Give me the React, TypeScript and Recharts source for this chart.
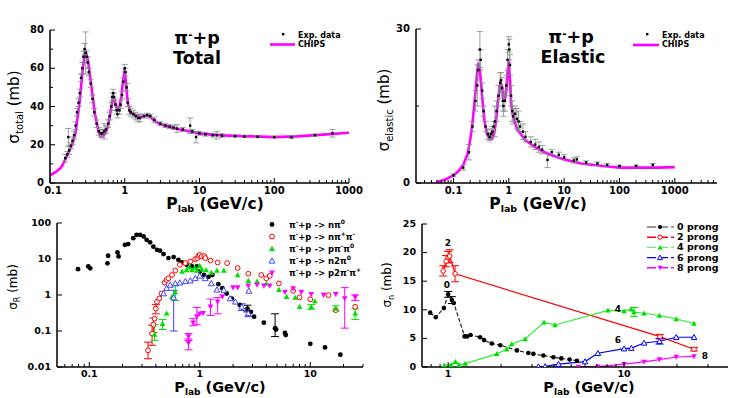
import React from 'react';
import { ComposedChart, Line, Scatter, XAxis, YAxis, ErrorBar } from 'recharts';

const FONT = '"DejaVu Sans", Arial, sans-serif';
const MAGENTA = '#ff00ff';
const GREEN = '#00e000';
const BLUE = '#0000ff';
const RED = '#ff0000';

// ---- top left: pi- p total
const totalChips = [
  { p: 0.1, s: 4 }, { p: 0.12, s: 5.8 }, { p: 0.14, s: 8 }, { p: 0.15, s: 10 }, { p: 0.17, s: 14.5 },
  { p: 0.2, s: 20.5 }, { p: 0.22, s: 26.5 }, { p: 0.25, s: 43 }, { p: 0.27, s: 57 }, { p: 0.29, s: 67.5 },
  { p: 0.3, s: 68.5 }, { p: 0.32, s: 65 }, { p: 0.35, s: 53.5 }, { p: 0.4, s: 36 }, { p: 0.45, s: 26.5 },
  { p: 0.48, s: 24.2 }, { p: 0.52, s: 25 }, { p: 0.55, s: 25.8 }, { p: 0.6, s: 30 }, { p: 0.65, s: 38 },
  { p: 0.7, s: 45 }, { p: 0.75, s: 42 }, { p: 0.8, s: 38 }, { p: 0.85, s: 40 }, { p: 0.9, s: 45 },
  { p: 0.95, s: 53.5 }, { p: 1.0, s: 59.5 }, { p: 1.05, s: 50 }, { p: 1.1, s: 41.5 }, { p: 1.2, s: 37 },
  { p: 1.4, s: 35.4 }, { p: 1.6, s: 34.5 }, { p: 1.8, s: 34.8 }, { p: 2.0, s: 35.4 }, { p: 2.2, s: 34.5 },
  { p: 2.5, s: 32.4 }, { p: 3, s: 30.7 }, { p: 4, s: 29.3 }, { p: 5, s: 28.2 }, { p: 7, s: 27.2 },
  { p: 10, s: 25.8 }, { p: 20, s: 24.9 }, { p: 50, s: 24.4 }, { p: 100, s: 24 }, { p: 200, s: 24.4 },
  { p: 500, s: 25.4 }, { p: 1000, s: 26.3 },
];
const totalExp = [
  { p: 0.16, s: 13, e: 2 }, { p: 0.17, s: 15, e: 1.5 }, { p: 0.176, s: 24, e: 4.5 }, { p: 0.18, s: 17, e: 2 },
  { p: 0.19, s: 19.5, e: 1.5 }, { p: 0.2, s: 22, e: 2 }, { p: 0.21, s: 25, e: 2 }, { p: 0.22, s: 30, e: 2 },
  { p: 0.23, s: 37, e: 2 }, { p: 0.24, s: 42, e: 2 }, { p: 0.25, s: 47, e: 2 }, { p: 0.26, s: 55, e: 2 },
  { p: 0.27, s: 60, e: 3 }, { p: 0.28, s: 66, e: 3 }, { p: 0.29, s: 70, e: 3 }, { p: 0.3, s: 68, e: 11 },
  { p: 0.31, s: 66, e: 3 }, { p: 0.32, s: 63, e: 3 }, { p: 0.33, s: 58, e: 2 }, { p: 0.35, s: 52, e: 2 },
  { p: 0.37, s: 44, e: 2 }, { p: 0.39, s: 37, e: 2 }, { p: 0.42, s: 31, e: 2 }, { p: 0.45, s: 27, e: 2 },
  { p: 0.48, s: 26, e: 2 }, { p: 0.5, s: 26, e: 2 }, { p: 0.53, s: 27, e: 4 }, { p: 0.56, s: 28, e: 2 },
  { p: 0.6, s: 31, e: 2 }, { p: 0.63, s: 35, e: 2 }, { p: 0.66, s: 40, e: 2 }, { p: 0.68, s: 45, e: 2 },
  { p: 0.7, s: 47, e: 2 }, { p: 0.72, s: 45, e: 2 }, { p: 0.75, s: 41, e: 3 }, { p: 0.78, s: 38, e: 2 },
  { p: 0.8, s: 36, e: 2 }, { p: 0.85, s: 38, e: 2 }, { p: 0.88, s: 41, e: 2 }, { p: 0.92, s: 46, e: 2 },
  { p: 0.96, s: 53, e: 2 }, { p: 1.0, s: 60, e: 2 }, { p: 1.02, s: 58, e: 2 }, { p: 1.06, s: 50, e: 2 },
  { p: 1.1, s: 42, e: 2 }, { p: 1.15, s: 38, e: 2 }, { p: 1.2, s: 37, e: 2 }, { p: 1.3, s: 36, e: 2 },
  { p: 1.4, s: 35, e: 2 }, { p: 1.5, s: 34, e: 2 }, { p: 1.6, s: 34, e: 2 }, { p: 1.8, s: 35, e: 1 },
  { p: 2.0, s: 35.5, e: 1 }, { p: 2.2, s: 35, e: 1 }, { p: 2.5, s: 33, e: 1.5 }, { p: 3, s: 31, e: 1 },
  { p: 3.5, s: 30, e: 1 }, { p: 4, s: 29.5, e: 1 }, { p: 4.5, s: 29, e: 1 }, { p: 5, s: 28.5, e: 2 },
  { p: 6, s: 28, e: 1 }, { p: 7.5, s: 30, e: 4 }, { p: 8, s: 27, e: 1 }, { p: 9, s: 24, e: 3 },
  { p: 10, s: 26, e: 1 }, { p: 12, s: 25.5, e: 1 }, { p: 15, s: 25, e: 1 }, { p: 17, s: 25, e: 2 },
  { p: 20, s: 24.8, e: 1 }, { p: 30, s: 24.5, e: 0.5 }, { p: 40, s: 24.3, e: 0.5 }, { p: 60, s: 24.2, e: 0.5 },
  { p: 100, s: 24, e: 0.5 }, { p: 170, s: 24, e: 0.8 }, { p: 350, s: 25, e: 0.5 }, { p: 600, s: 26, e: 2 },
];

// ---- top right: pi- p elastic
const elasticChips = [
  { p: 0.05, s: 0.2 }, { p: 0.07, s: 0.65 }, { p: 0.1, s: 1.5 }, { p: 0.12, s: 2.2 }, { p: 0.15, s: 3.5 },
  { p: 0.18, s: 5.7 }, { p: 0.2, s: 8.3 }, { p: 0.22, s: 11.5 }, { p: 0.25, s: 17.8 }, { p: 0.27, s: 22 },
  { p: 0.28, s: 23.4 }, { p: 0.3, s: 22 }, { p: 0.33, s: 16.8 }, { p: 0.36, s: 12.3 }, { p: 0.4, s: 9.7 },
  { p: 0.45, s: 8.5 }, { p: 0.5, s: 8.7 }, { p: 0.55, s: 10 }, { p: 0.6, s: 12.9 }, { p: 0.65, s: 16.8 },
  { p: 0.7, s: 19.4 }, { p: 0.75, s: 19 }, { p: 0.8, s: 16.5 }, { p: 0.85, s: 16.2 }, { p: 0.9, s: 18 },
  { p: 0.95, s: 21.7 }, { p: 1.0, s: 23.7 }, { p: 1.05, s: 20 }, { p: 1.1, s: 15.5 }, { p: 1.2, s: 12.9 },
  { p: 1.4, s: 10.6 }, { p: 1.6, s: 9.7 }, { p: 2, s: 8.3 }, { p: 3, s: 7 }, { p: 5, s: 5.7 },
  { p: 10, s: 4.6 }, { p: 20, s: 3.8 }, { p: 50, s: 3.3 }, { p: 100, s: 3.0 }, { p: 200, s: 3.0 },
  { p: 500, s: 3.0 }, { p: 1000, s: 3.1 },
];
const elasticExp = [
  { p: 0.1, s: 1.5, e: 0.3 }, { p: 0.15, s: 3, e: 0.5 }, { p: 0.19, s: 6, e: 1.5 }, { p: 0.22, s: 11, e: 1 },
  { p: 0.25, s: 16, e: 2 }, { p: 0.27, s: 19, e: 4 }, { p: 0.28, s: 22, e: 2 }, { p: 0.3, s: 26, e: 3.5 },
  { p: 0.31, s: 24, e: 2 }, { p: 0.33, s: 18, e: 1.5 }, { p: 0.35, s: 14, e: 1 }, { p: 0.38, s: 11, e: 1 },
  { p: 0.42, s: 9.5, e: 1 }, { p: 0.45, s: 9, e: 0.8 }, { p: 0.48, s: 9.5, e: 1 }, { p: 0.5, s: 10, e: 1 },
  { p: 0.53, s: 11, e: 1 }, { p: 0.56, s: 12, e: 3 }, { p: 0.6, s: 14, e: 2 }, { p: 0.65, s: 17, e: 2 },
  { p: 0.7, s: 19.5, e: 2 }, { p: 0.72, s: 20, e: 1.5 }, { p: 0.75, s: 18.5, e: 2 }, { p: 0.78, s: 16, e: 2 },
  { p: 0.8, s: 15, e: 2 }, { p: 0.85, s: 16, e: 2 }, { p: 0.9, s: 19, e: 2 }, { p: 0.95, s: 24, e: 2 },
  { p: 1.0, s: 27, e: 1.5 }, { p: 1.02, s: 26, e: 2 }, { p: 1.05, s: 23, e: 2 }, { p: 1.1, s: 17, e: 2 },
  { p: 1.15, s: 14, e: 2 }, { p: 1.2, s: 13, e: 1.5 }, { p: 1.3, s: 13.5, e: 1.5 }, { p: 1.4, s: 12.5, e: 2 },
  { p: 1.5, s: 12, e: 2 }, { p: 1.6, s: 11, e: 1 }, { p: 1.8, s: 10, e: 1.5 }, { p: 2, s: 9, e: 1 },
  { p: 2.5, s: 8, e: 1 }, { p: 3, s: 7.5, e: 1 }, { p: 3.5, s: 7, e: 1 }, { p: 4, s: 6.5, e: 0.8 },
  { p: 5, s: 4.5, e: 1.5 }, { p: 6, s: 6, e: 0.5 }, { p: 8, s: 5.5, e: 0.5 }, { p: 10, s: 5, e: 0.5 },
  { p: 15, s: 4.4, e: 0.5 }, { p: 17, s: 4.6, e: 0.5 }, { p: 25, s: 4, e: 0.3 }, { p: 40, s: 3.8, e: 0.3 },
  { p: 60, s: 3.5, e: 0.3 }, { p: 100, s: 3.3, e: 0.2 }, { p: 200, s: 3.3, e: 0.2 }, { p: 400, s: 3.5, e: 0.3 },
];

// ---- bottom left: reaction cross sections
const nPi0 = [
  { p: 0.079, s: 5.2 }, { p: 0.098, s: 6.2 }, { p: 0.102, s: 5.5 }, { p: 0.146, s: 7.6 }, { p: 0.148, s: 12.3 },
  { p: 0.18, s: 15.2 }, { p: 0.184, s: 11.8 }, { p: 0.21, s: 24.8 }, { p: 0.225, s: 25.9 }, { p: 0.25, s: 38 },
  { p: 0.268, s: 47 }, { p: 0.288, s: 47 }, { p: 0.31, s: 42.5 }, { p: 0.33, s: 34 }, { p: 0.355, s: 29 },
  { p: 0.38, s: 22 }, { p: 0.41, s: 18 }, { p: 0.437, s: 17 }, { p: 0.47, s: 13.7 }, { p: 0.52, s: 10.6 },
  { p: 0.58, s: 11.3 }, { p: 0.64, s: 9.5 }, { p: 0.69, s: 8 }, { p: 0.76, s: 6.9 }, { p: 0.85, s: 6.2 },
  { p: 0.94, s: 6.2 }, { p: 1.0, s: 4.5 }, { p: 1.09, s: 3.6 }, { p: 1.2, s: 3.2 }, { p: 1.3, s: 3.6 },
  { p: 1.47, s: 2.0 }, { p: 1.6, s: 1.54 }, { p: 1.75, s: 1.1 }, { p: 1.95, s: 0.79 }, { p: 2.3, s: 0.53 },
  { p: 2.7, s: 0.42, e: [0.08, 0.1] }, { p: 2.9, s: 0.34 }, { p: 3.1, s: 0.25 }, { p: 3.8, s: 0.17 },
  { p: 4.8, s: 0.12, e: [0.05, 0.18] }, { p: 4.9, s: 0.11 }, { p: 5.9, s: 0.088 }, { p: 6.0, s: 0.077 },
  { p: 10, s: 0.044 }, { p: 13.6, s: 0.035 }, { p: 18.7, s: 0.022 },
];
const nPipPim = [
  { p: 0.34, s: 0.029, e: [0.012, 0.02] }, { p: 0.37, s: 0.085, e: [0.045, 0.06] }, { p: 0.38, s: 0.15, e: [0.06, 0.08] },
  { p: 0.39, s: 0.22 }, { p: 0.4, s: 0.42, e: [0.12, 0.12] }, { p: 0.41, s: 0.65 }, { p: 0.43, s: 0.8 },
  { p: 0.45, s: 1.1 }, { p: 0.48, s: 2.2 }, { p: 0.5, s: 2.6 }, { p: 0.52, s: 2.9 }, { p: 0.56, s: 3.6 },
  { p: 0.6, s: 4.8 }, { p: 0.66, s: 6.9 }, { p: 0.74, s: 7.7 }, { p: 0.82, s: 8.5 }, { p: 0.91, s: 9.9 },
  { p: 0.95, s: 10.5 }, { p: 0.97, s: 12.3 }, { p: 1.0, s: 13 }, { p: 1.04, s: 11.8 }, { p: 1.1, s: 12 },
  { p: 1.12, s: 10.6 }, { p: 1.25, s: 9.1 }, { p: 1.45, s: 8 }, { p: 1.77, s: 7.7 }, { p: 2.2, s: 5.6 },
  { p: 2.75, s: 3.9 }, { p: 3.6, s: 3.6 }, { p: 4.0, s: 2.9 }, { p: 4.3, s: 3.4 }, { p: 5.2, s: 2.1 },
  { p: 7.0, s: 1.3 }, { p: 8.0, s: 0.86 }, { p: 10, s: 0.76 }, { p: 14.6, s: 0.99 }, { p: 17, s: 0.38 },
  { p: 25.5, s: 0.47 },
];
const pPimPi0 = [
  { p: 0.39, s: 0.08, e: [0.025, 0.07] }, { p: 0.46, s: 0.16, e: [0.05, 0.05] }, { p: 0.5, s: 0.31 },
  { p: 0.56, s: 0.9 }, { p: 0.6, s: 1.2, e: [0.5, 0.6] }, { p: 0.69, s: 4.5 }, { p: 0.76, s: 5 },
  { p: 0.8, s: 6 }, { p: 0.85, s: 5 }, { p: 0.9, s: 5.8 }, { p: 0.94, s: 4.8 }, { p: 1.0, s: 6.5 },
  { p: 1.04, s: 5.2 }, { p: 1.14, s: 5 }, { p: 1.27, s: 4.2 }, { p: 1.43, s: 4.8 }, { p: 1.65, s: 4.8 },
  { p: 2.2, s: 3.6 }, { p: 2.75, s: 2.5 }, { p: 3.3, s: 2.4 }, { p: 4.0, s: 2.1 }, { p: 5.2, s: 1.4 },
  { p: 6.1, s: 0.9 }, { p: 7.3, s: 0.85 }, { p: 8, s: 0.47 }, { p: 10.2, s: 0.47, e: [0.07, 0.07] },
  { p: 11, s: 0.68 }, { p: 17, s: 0.42, e: [0.06, 0.08] }, { p: 25.5, s: 0.31, e: [0.1, 0.1] },
];
const n2Pi0 = [
  { p: 0.47, s: 1.1 }, { p: 0.5, s: 1.55 }, { p: 0.54, s: 1.9 }, { p: 0.58, s: 0.85, e: [0.75, 0.5] },
  { p: 0.6, s: 2.1 }, { p: 0.66, s: 2.2 }, { p: 0.74, s: 2.4 }, { p: 0.82, s: 2.5 }, { p: 0.91, s: 2.9 },
  { p: 1.0, s: 3.4 }, { p: 1.12, s: 2.9 }, { p: 1.27, s: 2.1 }, { p: 1.43, s: 1.4 }, { p: 1.65, s: 1.37 },
  { p: 1.88, s: 0.8 }, { p: 2.1, s: 0.65 }, { p: 2.4, s: 0.47, e: [0.1, 0.1] }, { p: 2.75, s: 0.31, e: [0.06, 0.06] },
  { p: 2.78, s: 1.3 },
];
const p2PimPip = [
  { p: 0.79, s: 0.07, e: [0.015, 0.015] }, { p: 0.79, s: 0.046, e: [0.016, 0.014] }, { p: 0.87, s: 0.17, e: [0.03, 0.05] },
  { p: 0.94, s: 0.25, e: [0.1, 0.2] }, { p: 1.0, s: 0.3 }, { p: 1.07, s: 0.31 }, { p: 1.25, s: 0.47, e: [0.2, 0.3] },
  { p: 1.45, s: 0.65, e: [0.35, 0.2] }, { p: 1.6, s: 0.9 }, { p: 2.0, s: 1.6 }, { p: 2.2, s: 1.6 },
  { p: 2.75, s: 1.8 }, { p: 3.3, s: 1.9 }, { p: 3.8, s: 1.8 }, { p: 4.3, s: 1.8 }, { p: 5.9, s: 1.2 },
  { p: 7, s: 1.5 }, { p: 8.3, s: 1.2 }, { p: 10.2, s: 1.05 }, { p: 13.2, s: 0.99 }, { p: 17, s: 1.05 },
  { p: 20.5, s: 0.8, e: [0.68, 0.8] }, { p: 25.5, s: 0.86, e: [0.15, 0.15] },
];

// ---- bottom right: prong cross sections
const prong0 = [
  { p: 0.79, s: 9.5 }, { p: 0.85, s: 8.7 }, { p: 0.945, s: 10.3 }, { p: 1.0, s: 12.7, e: 0.5 }, { p: 1.05, s: 11.7, e: 0.6 },
  { p: 1.076, s: 11.2 }, { p: 1.24, s: 5.35 }, { p: 1.28, s: 5.35 }, { p: 1.34, s: 5.6 }, { p: 1.52, s: 5.2 },
  { p: 1.6, s: 4.7 }, { p: 1.77, s: 4.1 }, { p: 1.98, s: 3.8 }, { p: 2.46, s: 2.9 }, { p: 2.86, s: 2.45 },
  { p: 3.05, s: 2.3 }, { p: 3.48, s: 2.0 }, { p: 3.97, s: 1.7 }, { p: 4.4, s: 1.5 }, { p: 4.9, s: 1.3 },
  { p: 5.4, s: 1.1 },
];
const prong2 = [
  { p: 0.937, s: 16.8, e: 0.9 }, { p: 0.974, s: 18.5, e: 1.0 }, { p: 1.0, s: 19.2, e: 1.0 }, { p: 1.02, s: 19.4, e: 1.1 },
  { p: 1.095, s: 16.3, e: 1.4 }, { p: 16, s: 5.3, e: 0.4 }, { p: 25, s: 3.1, e: 0.3 },
];
const prong4 = [
  { p: 0.95, s: 0.3 }, { p: 1.04, s: 0.4 }, { p: 1.1, s: 0.9 }, { p: 1.15, s: 0.4 }, { p: 1.25, s: 0.6 },
  { p: 1.89, s: 2.3 }, { p: 2.15, s: 3.1 }, { p: 2.3, s: 4.0 }, { p: 2.74, s: 4.9 }, { p: 3.51, s: 7.8 },
  { p: 4.05, s: 7.35 }, { p: 8.1, s: 9.9 }, { p: 10, s: 9.8 }, { p: 11, s: 10.1 }, { p: 11.4, s: 9.6, e: 0.8 },
  { p: 13, s: 9.4 }, { p: 15.9, s: 9.0 }, { p: 19.8, s: 8.4 }, { p: 25, s: 7.6 },
];
const prong6 = [
  { p: 3.26, s: 0.05 }, { p: 3.56, s: 0.1 }, { p: 4.24, s: 0.5 }, { p: 6.0, s: 0.95 }, { p: 7.1, s: 2.4 },
  { p: 10, s: 3.2 }, { p: 11, s: 3.3 }, { p: 13, s: 4.2 }, { p: 15.9, s: 4.5, e: 0.5 }, { p: 19.8, s: 5.2 },
  { p: 25, s: 5.2 },
];
const prong8 = [
  { p: 5.5, s: 0 }, { p: 7.1, s: 0.05 }, { p: 10, s: 0.5 }, { p: 13, s: 0.9 }, { p: 15.9, s: 1.3 },
  { p: 19.8, s: 1.75 }, { p: 25, s: 1.85 },
];

// ---- ticks
const topTicksA = [0.1, 0.2, 0.3, 0.4, 0.5, 0.6, 0.7, 0.8, 0.9, 1, 2, 3, 4, 5, 6, 7, 8, 9, 10, 20, 30, 40, 50, 60, 70, 80, 90, 100, 200, 300, 400, 500, 600, 700, 800, 900, 1000];
const topTicksB = [0.03, 0.04, 0.05, 0.06, 0.07, 0.08, 0.09, ...topTicksA, 2000, 3000, 4000, 5000];
const topLabels = [0.1, 1, 10, 100, 1000];
const totalYTicks = [0, 10, 20, 30, 40, 50, 60, 70, 80];
const totalYLabels = [0, 20, 40, 60, 80];
const elasticYTicks = [0, 15, 30];
const elasticYLabels = [0, 30];
const reactXTicks = [0.06, 0.07, 0.08, 0.09, 0.1, 0.2, 0.3, 0.4, 0.5, 0.6, 0.7, 0.8, 0.9, 1, 2, 3, 4, 5, 6, 7, 8, 9, 10, 20, 30];
const reactXLabels = [0.1, 1, 10];
const reactYTicks = [0.01, 0.1, 1, 10, 100];
const prongXTicks = [0.8, 0.9, 1, 2, 3, 4, 5, 6, 7, 8, 9, 10, 20, 30];
const prongXLabels = [1, 10];
const prongYTicks = [0, 5, 10, 15, 20, 25];

// tick mark drawn inside the plot, label only on the major values
const xTick = (labels: number[], size: number, off: number, firstShift = 0) => (props: any) => {
  const { x, y, payload } = props;
  const major = labels.includes(payload.value);
  const dx = payload.value === labels[0] ? firstShift : 0;
  return (
    <g>
      <line x1={x} x2={x} y1={y} y2={y - (major ? 5 : 3)} stroke="#000" strokeWidth={1} />
      {major && (
        <text x={x + dx} y={y + off} textAnchor="middle" fontFamily={FONT} fontWeight="bold" fontSize={size} fill="#000">
          {payload.value}
        </text>
      )}
    </g>
  );
};

const yTick = (labels: number[], size: number) => (props: any) => {
  const { x, y, payload } = props;
  const major = labels.includes(payload.value);
  return (
    <g>
      <line x1={x} x2={x + (major ? 5 : 3)} y1={y} y2={y} stroke="#000" strokeWidth={1} />
      {major && (
        <text x={x - 6} y={y + size * 0.3} textAnchor="end" fontFamily={FONT} fontWeight="bold" fontSize={size} fill="#000">
          {payload.value}
        </text>
      )}
    </g>
  );
};

type Kind = 'dot' | 'circle' | 'tri' | 'triOpen' | 'triDown';

function Marker({ kind, cx, cy, color, r = 2.6 }: { kind: Kind; cx: number; cy: number; color: string; r?: number }) {
  if (cx == null || cy == null) return null;
  if (kind === 'dot') return <circle cx={cx} cy={cy} r={r} fill={color} />;
  if (kind === 'circle') return <circle cx={cx} cy={cy} r={r} fill="#fff" stroke={color} strokeWidth={1} />;
  const h = r * 1.2;
  if (kind === 'triDown')
    return <path d={`M${cx - h},${cy - h * 0.8}L${cx + h},${cy - h * 0.8}L${cx},${cy + h}Z`} fill={color} />;
  const d = `M${cx - h},${cy + h * 0.8}L${cx + h},${cy + h * 0.8}L${cx},${cy - h}Z`;
  return kind === 'tri' ? <path d={d} fill={color} /> : <path d={d} fill="#fff" stroke={color} strokeWidth={1} />;
}

const expDot = (props: any) => <rect x={props.cx - 1.2} y={props.cy - 1.2} width={2.4} height={2.4} fill="#000" />;

const axisLine = { stroke: '#000', strokeWidth: 1.5 };

function Txt({ x, y, size, bold = true, anchor = 'center', rotate = false, children }: any) {
  const tr = anchor === 'center' ? 'translate(-50%,-50%)' : 'translate(0,-50%)';
  return (
    <div
      style={{
        position: 'absolute', left: x, top: y, transform: tr + (rotate ? ' rotate(-90deg)' : ''),
        fontSize: size, fontWeight: bold ? 'bold' : 'normal', whiteSpace: 'nowrap', lineHeight: 1, color: '#000',
      }}
    >
      {children}
    </div>
  );
}

const sub = (t: string, size: number) => <span style={{ fontSize: size, position: 'relative', top: size * 0.35 }}>{t}</span>;
const sup = (t: string, size: number) => <span style={{ fontSize: size, position: 'relative', top: -size * 0.6 }}>{t}</span>;

function TopChart({ chips, exp, xTicks, domain, yTicks, yLabels, yMax, margin, firstShift }: any) {
  return (
    <ComposedChart width={margin.w} height={200} margin={{ top: margin.top, right: margin.right, bottom: 0, left: margin.left }}>
      <XAxis dataKey="p" type="number" scale="log" domain={domain} allowDataOverflow ticks={xTicks} interval={0}
        tickSize={0} tickMargin={0} tickLine={false} tick={xTick(topLabels, 10, 11, firstShift)} height={17} axisLine={axisLine} />
      <YAxis type="number" domain={[0, yMax]} allowDataOverflow ticks={yTicks} interval={0} width={margin.yw}
        tickSize={0} tickMargin={0} tickLine={false} tick={yTick(yLabels, 10)} axisLine={axisLine} />
      <Line data={chips} dataKey="s" stroke={MAGENTA} strokeWidth={2.6} dot={false} isAnimationActive={false} />
      <Scatter data={exp} dataKey="s" shape={expDot} isAnimationActive={false}>
        <ErrorBar dataKey="e" direction="y" width={3} stroke="#7d8c86" strokeWidth={0.8} />
      </Scatter>
    </ComposedChart>
  );
}

const reactSeries = [
  { data: nPi0, kind: 'dot' as Kind, color: '#000', label: ['nπ', '0', '', ''] },
  { data: nPipPim, kind: 'circle' as Kind, color: RED, label: ['nπ', '+', 'π', '-'] },
  { data: pPimPi0, kind: 'tri' as Kind, color: GREEN, label: ['pπ', '-', 'π', '0'] },
  { data: n2Pi0, kind: 'triOpen' as Kind, color: '#4040ff', label: ['n2π', '0', '', ''] },
  { data: p2PimPip, kind: 'triDown' as Kind, color: MAGENTA, label: ['p2π', '-', 'π', '+'] },
];

const prongSeries = [
  { data: prong0, kind: 'dot' as Kind, color: '#000', line: '#222', legend: '#777', name: '0 prong', dash: '4 2' },
  { data: prong2, kind: 'circle' as Kind, color: RED, line: RED, legend: RED, name: '2 prong', dash: undefined },
  { data: prong4, kind: 'tri' as Kind, color: GREEN, line: '#33ee33', legend: '#66ee66', name: '4 prong', dash: undefined },
  { data: prong6, kind: 'triOpen' as Kind, color: BLUE, line: BLUE, legend: BLUE, name: '6 prong', dash: undefined },
  { data: prong8, kind: 'triDown' as Kind, color: MAGENTA, line: MAGENTA, legend: MAGENTA, name: '8 prong', dash: undefined },
];

export default function App() {
  return (
    <div style={{ position: 'absolute', left: 0, top: 0, width: 738, height: 398, background: '#fff', fontFamily: FONT, overflow: 'hidden' }}>
      {/* top left */}
      <div style={{ position: 'absolute', left: 0, top: 0 }}>
        <TopChart chips={totalChips} exp={totalExp} xTicks={topTicksA} domain={[0.1, 1000]} yTicks={totalYTicks}
          yLabels={totalYLabels} yMax={80} firstShift={3} margin={{ w: 370, top: 30, right: 21, left: 15, yw: 35 }} />
      </div>
      {/* top right */}
      <div style={{ position: 'absolute', left: 370, top: 0 }}>
        <TopChart chips={elasticChips} exp={elasticExp} xTicks={topTicksB} domain={[0.021, 5800]} yTicks={elasticYTicks}
          yLabels={elasticYLabels} yMax={30} firstShift={0} margin={{ w: 368, top: 29, right: 21, left: 16, yw: 30 }} />
      </div>
      {/* bottom left */}
      <div style={{ position: 'absolute', left: 0, top: 200 }}>
        <ComposedChart width={370} height={198} margin={{ top: 23, right: 7, bottom: 14, left: 17 }}>
          <XAxis dataKey="p" type="number" scale="log" domain={[0.051, 30]} allowDataOverflow ticks={reactXTicks} interval={0}
            tickSize={0} tickMargin={0} tickLine={false} tick={xTick(reactXLabels, 9.5, 10)} height={17} axisLine={axisLine} />
          <YAxis type="number" scale="log" domain={[0.01, 100]} allowDataOverflow ticks={reactYTicks} interval={0} width={40}
            tickSize={0} tickMargin={0} tickLine={false} tick={yTick(reactYTicks, 9.5)} axisLine={axisLine} />
          {reactSeries.map((sr, i) => (
            <Scatter key={i} data={sr.data} dataKey="s" isAnimationActive={false}
              shape={(pr: any) => <Marker kind={sr.kind} cx={pr.cx} cy={pr.cy} color={sr.color} r={2.4} />}>
              <ErrorBar dataKey="e" direction="y" width={4} stroke={sr.color} strokeWidth={1} />
            </Scatter>
          ))}
        </ComposedChart>
      </div>
      {/* bottom right */}
      <div style={{ position: 'absolute', left: 370, top: 200 }}>
        <ComposedChart width={368} height={198} margin={{ top: 24, right: 10, bottom: 14, left: 22 }}>
          <XAxis dataKey="p" type="number" scale="log" domain={[0.71, 39]} allowDataOverflow ticks={prongXTicks} interval={0}
            tickSize={0} tickMargin={0} tickLine={false} tick={xTick(prongXLabels, 9.5, 10)} height={17} axisLine={axisLine} />
          <YAxis type="number" domain={[0, 25]} allowDataOverflow ticks={prongYTicks} interval={0} width={30}
            tickSize={0} tickMargin={0} tickLine={false} tick={yTick(prongYTicks, 9.5)} axisLine={axisLine} />
          {prongSeries.map((sr, i) => (
            <Line key={i} data={sr.data} dataKey="s" stroke={sr.line} strokeWidth={1.2} strokeDasharray={sr.dash}
              isAnimationActive={false}
              dot={(pr: any) => <Marker key={pr.index} kind={sr.kind} cx={pr.cx} cy={pr.cy} color={sr.color} r={2.3} />}>
              <ErrorBar dataKey="e" direction="y" width={4} stroke={sr.color} strokeWidth={1} />
            </Line>
          ))}
        </ComposedChart>
      </div>

      {/* titles & legends, top */}
      <Txt x={197} y={39} size={17.5}>π{sup('-', 10.5)}+p</Txt>
      <Txt x={197} y={58.5} size={17.5}>Total</Txt>
      <Txt x={571} y={38} size={17.5}>π{sup('-', 10.5)}+p</Txt>
      <Txt x={573} y={57.5} size={17.5}>Elastic</Txt>

      <svg style={{ position: 'absolute', left: 0, top: 0 }} width={738} height={80}>
        <rect x={282} y={33} width={2.4} height={2.4} fill="#000" />
        <line x1={270} x2={295} y1={44.5} y2={44.5} stroke={MAGENTA} strokeWidth={2.6} />
        <rect x={646} y={33} width={2.4} height={2.4} fill="#000" />
        <line x1={633} x2={659} y1={45} y2={45} stroke={MAGENTA} strokeWidth={2.6} />
      </svg>
      <Txt x={298} y={36} size={8} anchor="left">Exp. data</Txt>
      <Txt x={298} y={45} size={8} anchor="left">CHIPS</Txt>
      <Txt x={662} y={36} size={8} anchor="left">Exp. data</Txt>
      <Txt x={662} y={45} size={8} anchor="left">CHIPS</Txt>

      {/* axis labels */}
      <Txt x={14} y={107} size={15} bold={false} rotate>σ{sub('total', 10)} (mb)</Txt>
      <Txt x={384} y={110} size={15} bold={false} rotate>σ{sub('elastic', 10)} (mb)</Txt>
      <Txt x={215} y={204.5} size={15.5}>P{sub('lab', 9.5)} (GeV/c)</Txt>
      <Txt x={538} y={204.5} size={15.5}>P{sub('lab', 9.5)} (GeV/c)</Txt>
      <Txt x={13} y={287} size={12} bold={false} rotate>σ{sub('R', 8)} (mb)</Txt>
      <Txt x={387} y={285} size={12} bold={false} rotate>σ{sub('n', 8)} (mb)</Txt>
      <Txt x={220} y={387} size={14.5}>P{sub('lab', 9)} (GeV/c)</Txt>
      <Txt x={589} y={387} size={14.5}>P{sub('lab', 9)} (GeV/c)</Txt>

      {/* bottom-left legend */}
      <svg style={{ position: 'absolute', left: 0, top: 200 }} width={370} height={100}>
        {reactSeries.map((sr, i) => (
          <Marker key={i} kind={sr.kind} cx={272} cy={24.5 + i * 12.1} color={sr.color} r={2.4} />
        ))}
      </svg>
      {reactSeries.map((sr, i) => (
        <Txt key={i} x={289} y={224.5 + i * 12.1} size={8.5} anchor="left">
          π{sup('-', 6)}+p -&gt; {sr.label[0]}{sup(sr.label[1], 6)}{sr.label[2]}{sup(sr.label[3], 6)}
        </Txt>
      ))}

      {/* bottom-right legend */}
      <svg style={{ position: 'absolute', left: 370, top: 200 }} width={368} height={100}>
        {prongSeries.map((sr, i) => (
          <g key={i}>
            <line x1={277} x2={304} y1={27 + i * 10.2} y2={27 + i * 10.2} stroke={sr.legend} strokeWidth={1.4} strokeDasharray="9 3" />
            <Marker kind={sr.kind} cx={290} cy={27 + i * 10.2} color={sr.color} r={2.1} />
          </g>
        ))}
      </svg>
      {prongSeries.map((sr, i) => (
        <Txt key={i} x={677} y={227 + i * 10.2} size={9.5} anchor="left">{sr.name}</Txt>
      ))}
      <Txt x={448} y={243} size={9}>2</Txt>
      <Txt x={447} y={285} size={9}>0</Txt>
      <Txt x={618} y={309} size={9}>4</Txt>
      <Txt x={618} y={340} size={9}>6</Txt>
      <Txt x={705} y={356} size={9}>8</Txt>
    </div>
  );
}
